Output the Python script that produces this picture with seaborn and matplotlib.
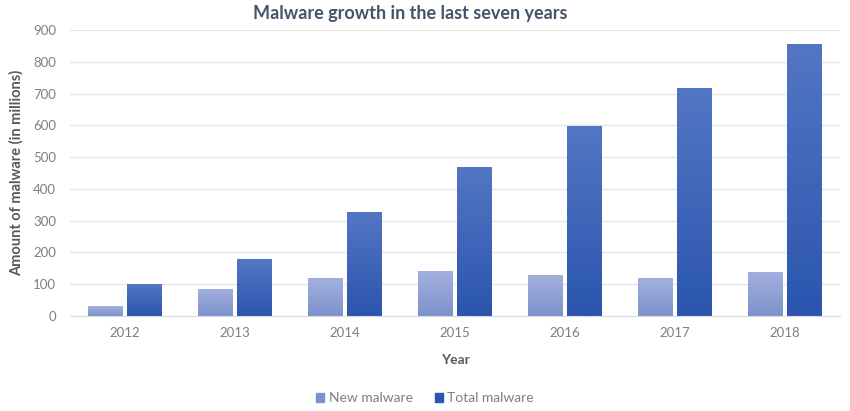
import matplotlib
matplotlib.use("Agg")
import matplotlib.pyplot as plt
import seaborn as sns
import pandas as pd
import numpy as np

years = ["2012", "2013", "2014", "2015", "2016", "2017", "2018"]
new_malware = [31, 84, 118, 141, 126, 118, 136]
total_malware = [98, 179, 325, 466, 596, 716, 855]
series = ["New malware", "Total malware"]

df = pd.DataFrame({
    "Year": years * 2,
    "Amount": new_malware + total_malware,
    "Series": [series[0]] * len(years) + [series[1]] * len(years),
})

sns.set_style("white")
plt.rcParams["font.family"] = ["Lato", "DejaVu Sans"]

fig = plt.figure(figsize=(8.5, 4.11), dpi=100)
ax = fig.add_axes([70 / 850, 1 - 316 / 411, 770 / 850, 286 / 411])

colors = {"New malware": "#8fa0d6", "Total malware": "#3a62b8"}
sns.barplot(data=df, x="Year", y="Amount", hue="Series", palette=colors,
            width=0.7, gap=0.1, ax=ax, legend=False)

# vertical gradient on each bar, like the office chart style
grads = {"New malware": ("#a3b0de", "#7d92cc"), "Total malware": ("#5376c4", "#2b55ae")}
for cont, name in zip(ax.containers, series):
    top_c, bot_c = grads[name]
    cmap = matplotlib.colors.LinearSegmentedColormap.from_list(name, [bot_c, top_c])
    for bar in cont:
        x0, y0 = bar.get_x(), bar.get_y()
        w, h = bar.get_width(), bar.get_height()
        bar.set_facecolor("none")
        bar.set_edgecolor("none")
        ax.imshow(np.linspace(0, 1, 64).reshape(-1, 1), cmap=cmap, origin="lower",
                  extent=[x0, x0 + w, y0, y0 + h], aspect="auto", zorder=2)

ax.set_xlim(-0.5, len(years) - 0.5)
ax.set_ylim(0, 900)
ax.set_yticks(range(0, 901, 100))
ax.yaxis.grid(True, color="#e4e4e4", linewidth=0.9)
ax.set_axisbelow(True)
for s in ["top", "right", "left"]:
    ax.spines[s].set_visible(False)
ax.spines["bottom"].set_color("#d9d9d9")
ax.tick_params(axis="both", length=0, labelsize=9.5, labelcolor="#7f7f7f")
ax.tick_params(axis="x", pad=8)
ax.tick_params(axis="y", pad=10)

ax.set_xlabel("Year", fontsize=10, fontweight="bold", color="#595959", labelpad=11)
ax.set_ylabel("Amount of malware (in millions)", fontsize=10.5, fontweight="bold",
              color="#595959", labelpad=7)

handles = [matplotlib.patches.Patch(color=grads[s][1]) for s in series]
fig.legend(handles, series, loc="center", bbox_to_anchor=(0.5, 1 - 398 / 411), ncol=2,
           frameon=False, fontsize=10, labelcolor="#7f7f7f", handlelength=0.6,
           handleheight=0.6, handletextpad=0.3, columnspacing=1.6)

fig.text(410 / 850, 1 - 19 / 411, "Malware growth in the last seven years", ha="center",
         va="baseline", fontsize=13, fontweight="bold", color="#44546a")

fig.savefig("out.png", dpi=100)
